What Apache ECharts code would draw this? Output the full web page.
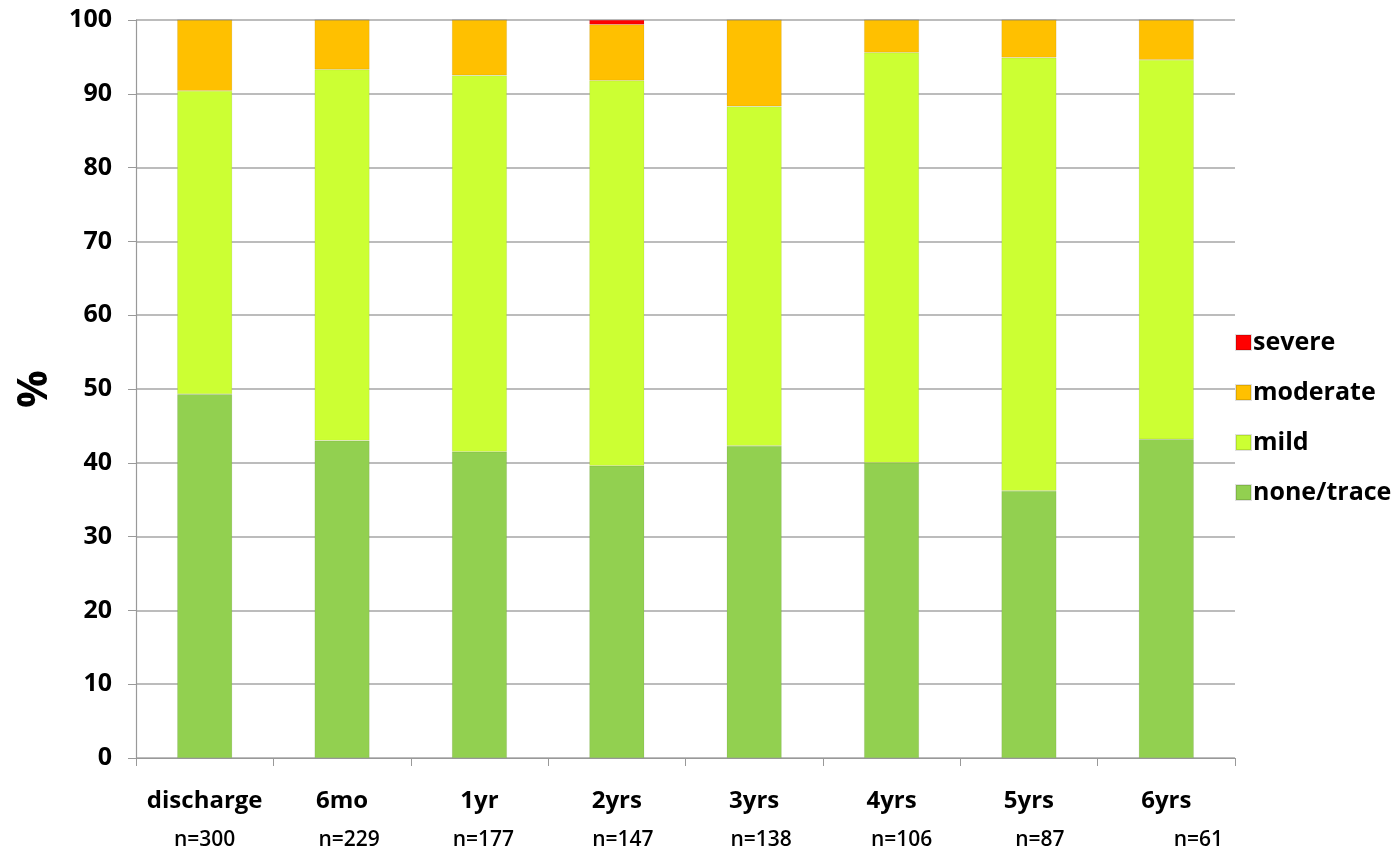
<!DOCTYPE html>
<html>
<head>
<meta charset="utf-8">
<script src="https://cdn.jsdelivr.net/npm/echarts@6/dist/echarts.min.js"></script>
<style>
  html, body { margin: 0; padding: 0; background: #fff; }
  #chart { width: 1400px; height: 856px; }
</style>
</head>
<body>
<div id="chart"></div>
<script>
// Follow-up time points and cohort sizes
const categories = ['discharge', '6mo', '1yr', '2yrs', '3yrs', '4yrs', '5yrs', '6yrs'];
const sampleSizes = ['n=300', 'n=229', 'n=177', 'n=147', 'n=138', 'n=106', 'n=87', 'n=61'];

// Percentage of patients per grade (stacked to 100)
const noneTrace = [49.3, 43.0, 41.5, 39.6, 42.3, 40.0, 36.2, 43.2];
const mild      = [41.1, 50.3, 51.0, 52.2, 46.0, 55.6, 58.7, 51.4];
const moderate  = [9.6, 6.7, 7.5, 7.6, 11.7, 4.4, 5.1, 5.4];
const severe    = [0, 0, 0, 0.6, 0, 0, 0, 0];

const yTicks = { min: 0, max: 100, interval: 10 };

// Horizontal nudge for the sample-size line under each category label
const nShift = [0, 7, 4, 6, 7, 10, 11, 32];

const FONT = '"Open Sans", "Liberation Sans", sans-serif';

const rich = { cat: { fontSize: 24, fontWeight: 'bold', color: '#000', fontFamily: FONT, lineHeight: 42 } };
nShift.forEach((s, i) => {
  rich['n' + i] = {
    fontSize: 21, fontWeight: 600, color: '#000', fontFamily: FONT, lineHeight: 36,
    padding: [0, 0, 0, s * 2]
  };
});

const chart = echarts.init(document.getElementById('chart'), null, { renderer: 'canvas' });

function bar(name, data, color) {
  return {
    name, type: 'bar', stack: 'total', data,
    barWidth: '40%',
    itemStyle: { color, borderColor: 'rgba(0,0,0,0.12)', borderWidth: 0.6 },
    emphasis: { disabled: true }
  };
}

chart.setOption({
  animation: false,
  backgroundColor: '#ffffff',
  textStyle: { fontFamily: FONT },
  grid: { left: 136, right: 165, top: 20, bottom: 98, containLabel: false },
  legend: {
    orient: 'vertical',
    left: 1230,
    top: 325,
    itemWidth: 15,
    itemHeight: 15,
    itemGap: 25,
    icon: 'rect',
    data: ['severe', 'moderate', 'mild', 'none/trace'],
    textStyle: { fontSize: 25, fontWeight: 'bold', color: '#000', fontFamily: FONT, padding: [0, 0, 0, -3] }
  },
  xAxis: {
    type: 'category',
    data: categories,
    axisLine: { show: true, lineStyle: { color: '#999', width: 1.2 } },
    axisTick: { show: true, length: 8, lineStyle: { color: '#999' }, alignWithLabel: false },
    axisLabel: {
      margin: 22,
      interval: 0,
      formatter: (v, i) => '{cat|' + v + '}\n{n' + i + '|' + sampleSizes[i] + '}',
      rich
    },
    splitLine: { show: false }
  },
  yAxis: {
    type: 'value',
    min: yTicks.min, max: yTicks.max, interval: yTicks.interval,
    name: '%',
    nameLocation: 'middle',
    nameGap: 80,
    nameRotate: 90,
    nameTextStyle: { fontSize: 42, fontWeight: 'bold', color: '#000', fontFamily: FONT },
    axisLine: { show: true, lineStyle: { color: '#999', width: 1.2 } },
    axisTick: { show: true, length: 8, lineStyle: { color: '#999' } },
    axisLabel: { margin: 24, fontSize: 25, fontWeight: 'bold', color: '#000', fontFamily: FONT },
    splitLine: { show: true, lineStyle: { color: '#a6a6a6', width: 1.5 } }
  },
  series: [
    bar('none/trace', noneTrace, '#92D050'),
    bar('mild', mild, '#CCFF33'),
    bar('moderate', moderate, '#FFC000'),
    bar('severe', severe, '#FF0000')
  ]
});
</script>
</body>
</html>
